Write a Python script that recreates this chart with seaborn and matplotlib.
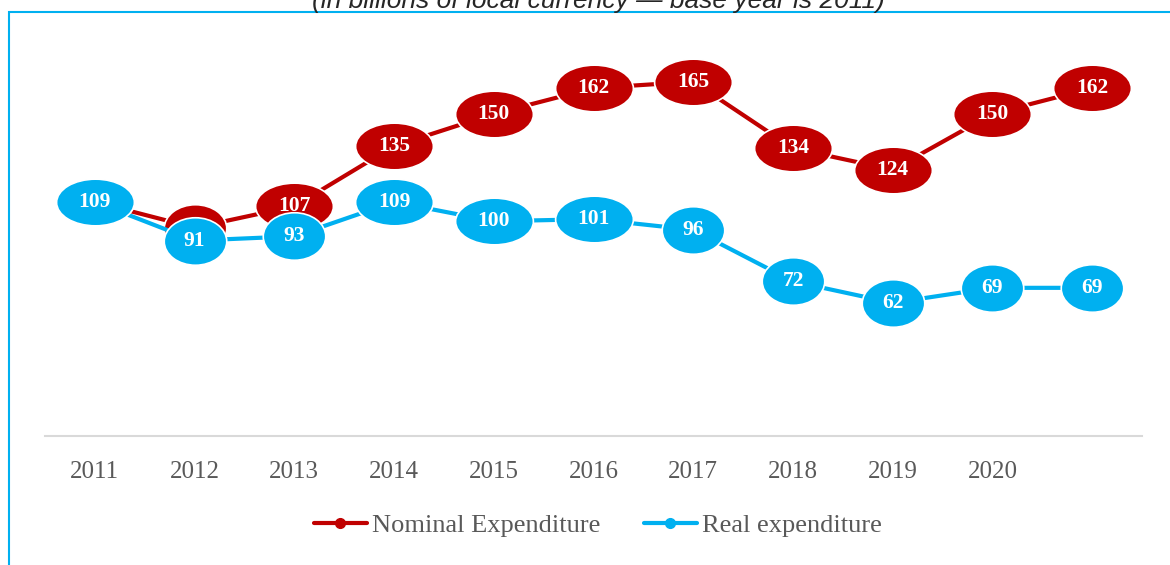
import numpy as np
import pandas as pd
import matplotlib
matplotlib.use('Agg')
import matplotlib.pyplot as plt
import seaborn as sns
from matplotlib.path import Path
from matplotlib.lines import Line2D
from matplotlib.patches import Rectangle

# Data
years = ['2011', '2012', '2013', '2014', '2015', '2016', '2017', '2018', '2019', '2020', '']
nominal = [109, 97, 107, 135, 150, 162, 165, 134, 124, 150, 162]
real = [109, 91, 93, 109, 100, 101, 96, 72, 62, 69, 69]

RED = '#C00000'
BLUE = '#00B0F0'

df = pd.DataFrame({'pos': range(len(years)), 'year': years,
                   'nominal': nominal, 'real': real})

sns.set_style('white')
plt.rcParams['font.family'] = ['Liberation Serif', 'DejaVu Serif']

fig = plt.figure(figsize=(11.7, 5.65), dpi=100)
ax = fig.add_axes([45 / 1170, 129 / 565, (1142 - 45) / 1170, 1 - 129 / 565 - 28 / 565])

# elliptical bubbles like the Excel data-label callouts (wider for 3 digits)
circ = Path.unit_circle()
bubble = {3: (Path(circ.vertices * np.array([1.0, 0.6]), circ.codes), 56),
          2: (Path(circ.vertices * np.array([1.0, 0.76]), circ.codes), 45)}

series = [('nominal', RED, 2), ('real', BLUE, 5)]
for col, color, z in series:
    sns.lineplot(data=df, x='pos', y=col, ax=ax, color=color, linewidth=3, zorder=z)
    for x, v in zip(df['pos'], df[col]):
        mk, ms = bubble[len(str(v))]
        ax.plot([x], [v], linestyle='none', marker=mk, markersize=ms,
                markerfacecolor=color, markeredgecolor='white',
                markeredgewidth=1.2, zorder=z)
        ax.text(x, v, str(v), ha='center', va='center', color='white',
                fontsize=15.5, fontweight='bold', zorder=z + 1)

ax.set_xlim(-0.5, len(years) - 0.5)
ax.set_ylim(0, 190)
ax.set_xticks(df['pos'])
ax.set_xticklabels(years, fontsize=18, color='#595959')
ax.tick_params(axis='x', length=0, pad=18)
ax.set_yticks([])
ax.set_xlabel('')
ax.set_ylabel('')
for s in ['top', 'right', 'left']:
    ax.spines[s].set_visible(False)
ax.spines['bottom'].set_color('#D9D9D9')
ax.spines['bottom'].set_linewidth(1.5)

handles = [Line2D([], [], color=RED, lw=3, marker='o', markersize=7),
           Line2D([], [], color=BLUE, lw=3, marker='o', markersize=7)]
fig.legend(handles, ['Nominal Expenditure', 'Real expenditure'], loc='center',
           bbox_to_anchor=(598 / 1170, 1 - 525 / 565), ncol=2, frameon=False,
           fontsize=19, handlelength=2.0, handletextpad=0.2, columnspacing=1.65,
           labelcolor='#595959')

# chart frame (partly outside the picture)
fig.patches.append(Rectangle((9 / 1170, -0.1), 1.2, 1.1 - 12 / 565,
                             transform=fig.transFigure, fill=False,
                             edgecolor=BLUE, linewidth=1.5, zorder=0))

fig.text(598 / 1170, 1 - 8 / 565,
         '(in billions of local currency \u2014 base year is 2011)',
         ha='center', va='baseline', fontsize=19, style='italic',
         family='Liberation Sans', color='#262626')

fig.savefig('out.png', dpi=100)
